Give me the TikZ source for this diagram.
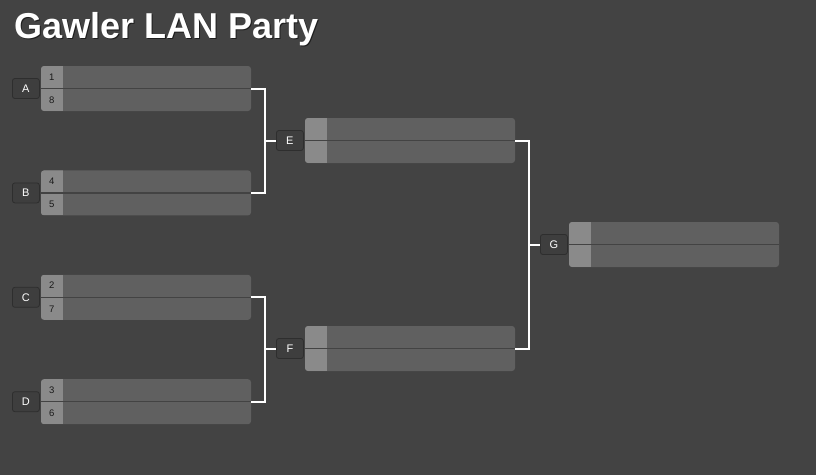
\documentclass[tikz,border=0pt]{standalone}
\usepackage{fontspec}
\setmainfont{Liberation Sans}
\usetikzlibrary{positioning,calc}

\definecolor{bggray}{HTML}{434343}
\definecolor{boxgray}{HTML}{606060}
\definecolor{seedgray}{HTML}{8A8A8A}
\definecolor{labgray}{HTML}{3E3E3E}
\definecolor{labline}{HTML}{2E2E2E}
\definecolor{shadowgray}{HTML}{1E1E1E}

\tikzset{
  match/.style={rounded corners=3pt,fill=boxgray,minimum width=210pt,minimum height=45pt,inner sep=0pt,
    path picture={
      \fill[seedgray,sharp corners] (path picture bounding box.north west) rectangle ([xshift=22pt]path picture bounding box.south west);
      \draw[bggray,line width=1.2pt,sharp corners] (path picture bounding box.west) -- (path picture bounding box.east);
    }},
  lab/.style={rounded corners=2.5pt,fill=labgray,draw=labline,line width=0.8pt,minimum width=27pt,minimum height=20pt,
    inner sep=0pt,text=white,font=\fontsize{11}{12}\selectfont},
  seed/.style={inner sep=0pt,text=black!90,font=\fontsize{9.5}{10}\selectfont},
  wire/.style={white,line width=2pt}
}

\begin{document}
\begin{tikzpicture}[x=1pt,y=-1pt]
  \fill[bggray] (0,0) rectangle (816,475);
  \useasboundingbox (0,0) rectangle (816,475);

  \node[anchor=base west,text=shadowgray,font=\bfseries\fontsize{36}{40}\selectfont] (titleshadow) at (11.5,39) {Gawler LAN Party};
  \node[anchor=base west,text=white,font=\bfseries\fontsize{36}{40}\selectfont]      (title)       at (10.5,38)   {Gawler LAN Party};

  % first round
  \node[match] (A) at (146,88.5)  {};
  \node[match] (B) [below=59pt of A] {};
  \node[match] (C) [below=59pt of B] {};
  \node[match] (D) [below=59pt of C] {};
  % second round
  \node[match] (E) at (410,140.5) {};
  \node[match] (F) at (410,348.5) {};
  % final
  \node[match] (G) at (674,244.5) {};

  \node[lab,left=1pt of A] (labA) {A};
  \node[lab,left=1pt of B] (labB) {B};
  \node[lab,left=1pt of C] (labC) {C};
  \node[lab,left=1pt of D] (labD) {D};
  \node[lab,left=1pt of E] (labE) {E};
  \node[lab,left=1pt of F] (labF) {F};
  \node[lab,left=1pt of G] (labG) {G};

  \node[seed] (A1) at ([xshift=11pt,yshift=-11pt]A.north west) {1};
  \node[seed] (A8) at ([xshift=11pt,yshift=11pt]A.south west)  {8};
  \node[seed] (B4) at ([xshift=11pt,yshift=-11pt]B.north west) {4};
  \node[seed] (B5) at ([xshift=11pt,yshift=11pt]B.south west)  {5};
  \node[seed] (C2) at ([xshift=11pt,yshift=-11pt]C.north west) {2};
  \node[seed] (C7) at ([xshift=11pt,yshift=11pt]C.south west)  {7};
  \node[seed] (D3) at ([xshift=11pt,yshift=-11pt]D.north west) {3};
  \node[seed] (D6) at ([xshift=11pt,yshift=11pt]D.south west)  {6};

  \draw[wire] (A.east) -- ++(14,0) |- (labE.west);
  \draw[wire] (B.east) -- ++(14,0) |- (labE.west);
  \draw[wire] (C.east) -- ++(14,0) |- (labF.west);
  \draw[wire] (D.east) -- ++(14,0) |- (labF.west);
  \draw[wire] (E.east) -- ++(14,0) |- (labG.west);
  \draw[wire] (F.east) -- ++(14,0) |- (labG.west);
\end{tikzpicture}
\end{document}
